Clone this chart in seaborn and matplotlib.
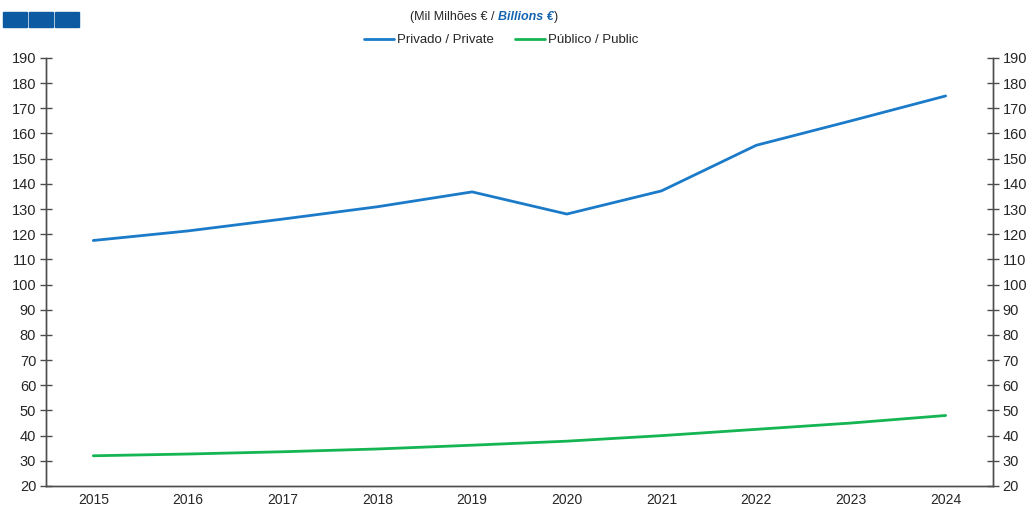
import matplotlib
matplotlib.use("Agg")
import matplotlib.pyplot as plt
from matplotlib.patches import Rectangle
import pandas as pd
import seaborn as sns

# values (Mil Milhões € / Billions €)
years = ["2015", "2016", "2017", "2018", "2019", "2020", "2021", "2022", "2023", "2024"]
privado = [117.5, 121.3, 126.0, 130.9, 136.8, 128.0, 137.2, 155.3, 165.0, 174.9]
publico = [32.0, 32.7, 33.6, 34.7, 36.2, 37.8, 40.0, 42.5, 45.0, 48.0]
y_ticks = list(range(20, 191, 10))

blue = "#1B7BC9"
green = "#14B552"
axis_col = "#4D4D4D"

sns.set_style("white")
plt.rcParams["font.family"] = ["Liberation Sans", "DejaVu Sans"]

df = pd.DataFrame({
    "year": years * 2,
    "value": privado + publico,
    "serie": ["Privado / Private"] * len(years) + ["Público / Public"] * len(years),
})

fig = plt.figure(figsize=(10.35, 5.09), dpi=100)
ax = fig.add_axes([0.0444, 0.0452, 0.915, 0.841])

sns.lineplot(data=df, x="year", y="value", hue="serie",
             palette={"Privado / Private": blue, "Público / Public": green},
             linewidth=2.0, ax=ax, legend=False)

ax.set_xlim(-0.5, len(years) - 0.5)
ax.set_ylim(20, 190)
ax.set_yticks(y_ticks)
ax.set_xlabel("")
ax.set_ylabel("")

# year labels centred, tick marks on category boundaries
ax.set_xticks(range(len(years)))
ax.set_xticklabels(years, fontsize=10, color="#262626")
ax.tick_params(axis="x", length=0, pad=5)
ax.set_xticks([i - 0.5 for i in range(len(years) + 1)], minor=True)
ax.tick_params(axis="x", which="minor", direction="out", length=5, color=axis_col, width=1)

ax.tick_params(axis="y", direction="inout", length=8, color=axis_col, width=1,
               labelsize=10.5, labelcolor="#262626", pad=3)

ax2 = ax.twinx()
ax2.set_ylim(ax.get_ylim())
ax2.set_yticks(y_ticks)
ax2.tick_params(axis="y", direction="inout", length=8, color=axis_col, width=1,
                labelsize=10.5, labelcolor="#262626", pad=3)

for a in (ax, ax2):
    a.spines["top"].set_visible(False)
    for s in ("left", "right", "bottom"):
        a.spines[s].set_color(axis_col)
        a.spines[s].set_linewidth(1)

# legend
handles = [plt.Line2D([], [], color=blue, lw=2.0), plt.Line2D([], [], color=green, lw=2.0)]
fig.legend(handles, ["Privado / Private", "Público / Public"], loc="center",
           bbox_to_anchor=(0.484, 0.921), ncol=2, frameon=False, fontsize=9.5,
           handlelength=2.3, handletextpad=0.2, columnspacing=1.6)

# subtitle with mixed styling
t1 = fig.text(0.481, 0.966, "(Mil Milhões € / ", ha="right", va="center",
              fontsize=9, color="#262626")
t2 = ax.annotate("Billions €", xy=(1, 0), xycoords=t1, va="bottom",
                 fontsize=9, color="#1565B0", fontweight="bold", fontstyle="italic")
ax.annotate(")", xy=(1, 0), xycoords=t2, va="bottom", fontsize=9, color="#262626")

# three blue squares in the corner
for i in range(3):
    fig.patches.append(Rectangle(((3 + 26 * i) / 1035, 1 - 27 / 509), 24 / 1035, 15 / 509,
                                 transform=fig.transFigure, color="#0B5AA2"))

fig.savefig("out.png", dpi=100)
